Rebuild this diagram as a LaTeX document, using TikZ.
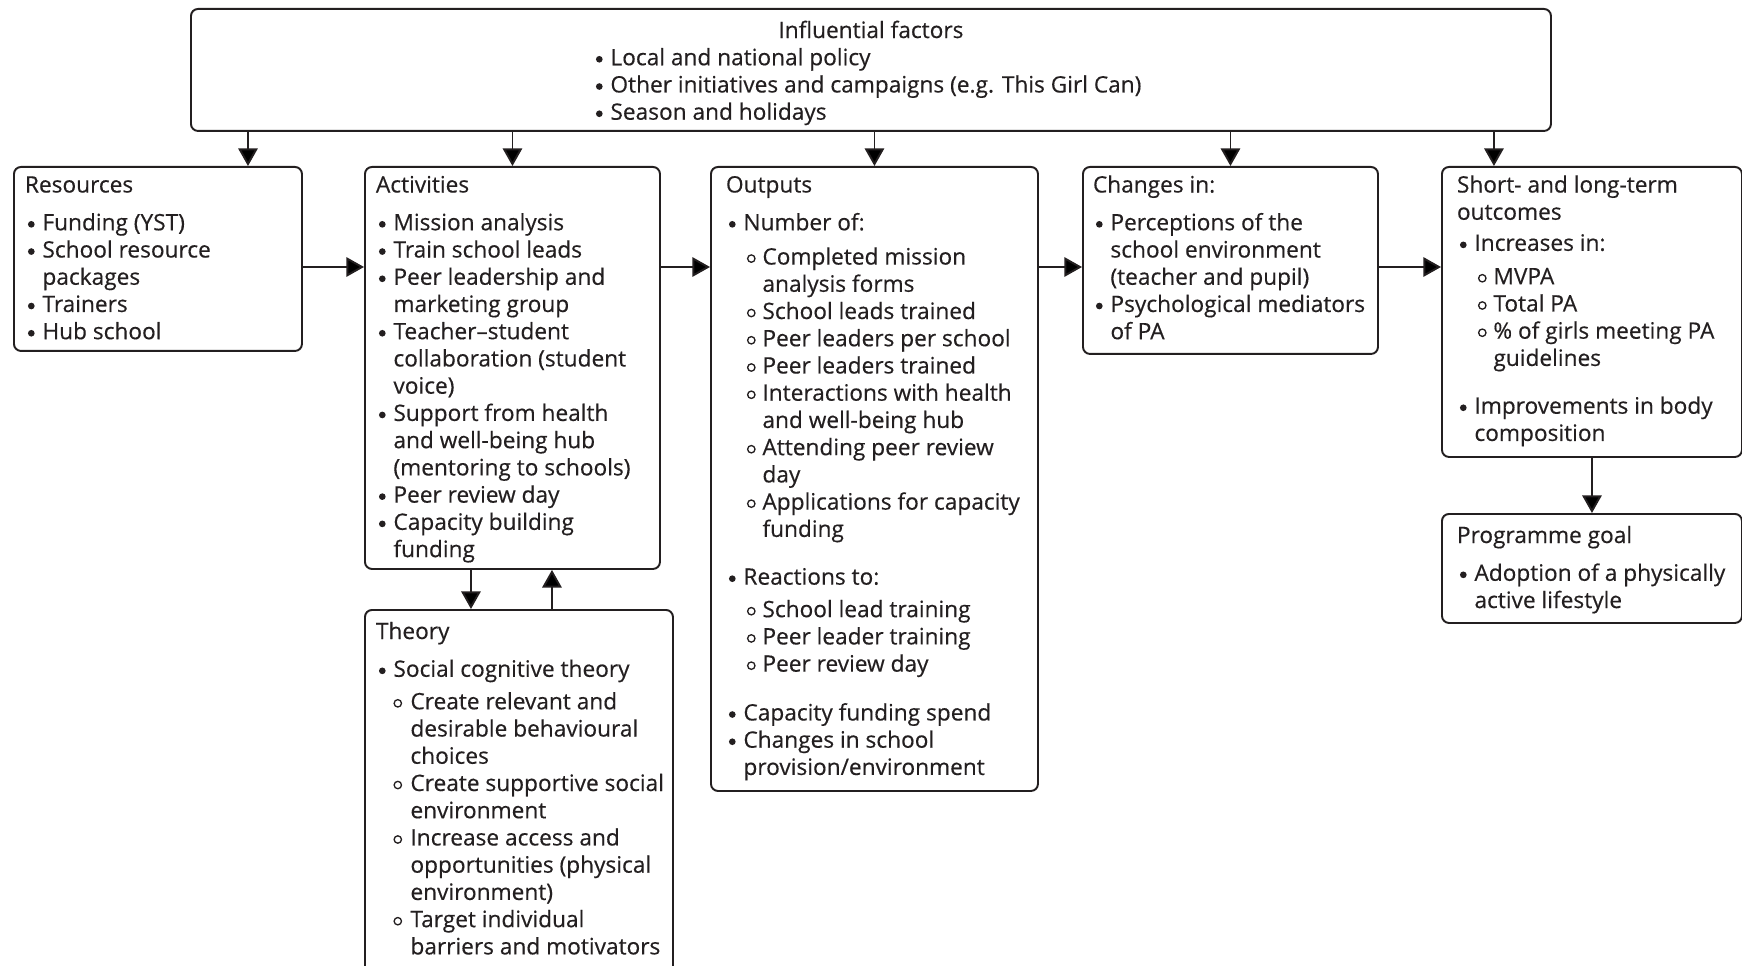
\documentclass[tikz,border=0pt]{standalone}
\usepackage{fontspec}
\setmainfont{Open Sans}[FakeBold=0.4]
\usetikzlibrary{arrows.meta}

\definecolor{ink}{HTML}{231F20}
\newlength\px \setlength\px{0.02cm}
\newcommand{\boxbody}[3]{\begin{minipage}[t][#2\px][t]{#1\px}\vspace*{2.5\px}\strut#3\end{minipage}}
\newcommand{\dotb}{\tikz[baseline]\fill (0,3.4pt) circle[radius=1.9pt];}
\newcommand{\ringb}{\tikz[baseline]\draw[line width=0.75pt] (0,3.4pt) circle[radius=2.1pt];}
\newcommand{\bul}{\hspace*{3\px}\makebox[14.5\px][l]{\dotb}}
\newcommand{\ind}{\hspace*{17.5\px}}
\newcommand{\sub}{\hspace*{21\px}\makebox[15.5\px][l]{\ringb}}
\newcommand{\sind}{\hspace*{36.5\px}}
\newcommand{\tsub}{\hspace*{17.5\px}\makebox[17\px][l]{\ringb}}
\newcommand{\tsind}{\hspace*{34.5\px}}

\tikzset{
  box/.style={draw=ink, text=ink, line width=1.1pt, rounded corners=4pt,
    anchor=north west, inner xsep=11\px, inner ysep=4\px,
    font=\fontsize{12.9}{15.5}\selectfont},
  arr/.style={-{Triangle[length=10pt,width=11pt]}, draw=ink, line width=1.1pt}
}

\begin{document}
\begin{tikzpicture}[x=0.02cm, y=-0.02cm]
\useasboundingbox (0,0) rectangle (1742,966);

% top box
\node[box, inner xsep=12\px, inner ysep=7.5\px] (top) at (190,8) {\boxbody{1336}{107}{%
\makebox[1336\px][c]{Influential factors}\\
\hspace*{390\px}\bul Local and national policy\\
\hspace*{390\px}\bul Other initiatives and campaigns (e.g. This Girl Can)\\
\hspace*{390\px}\bul Season and holidays}};

% logic model row
\node[box] (res) at (13,166) {\boxbody{266}{176}{%
Resources\\[6pt]
\bul Funding (YST)\\
\bul School resource\\
\ind packages\\
\bul Trainers\\
\bul Hub school}};

\node[box] (act) at (364,166) {\boxbody{273}{394}{%
Activities\\[6pt]
\bul Mission analysis\\
\bul Train school leads\\
\bul Peer leadership and\\
\ind marketing group\\
\bul Teacher--student\\
\ind collaboration (student\\
\ind voice)\\
\bul Support from health\\
\ind and well-being hub\\
\ind \mbox{(mentoring to schools)}\\
\bul Peer review day\\
\bul Capacity building\\
\ind funding}};

\node[box, inner xsep=15\px] (out) at (710,166) {\boxbody{297}{616}{%
Outputs\\[6pt]
\bul Number of:\\[4pt]
\sub Completed mission\\
\sind analysis forms\\
\sub School leads trained\\
\sub \mbox{Peer leaders per school}\\
\sub Peer leaders trained\\
\sub \mbox{Interactions with health}\\
\sind and well-being hub\\
\sub Attending peer review\\
\sind day\\
\sub \mbox{Applications for capacity}\\
\sind funding\\[11.7pt]
\bul Reactions to:\\[3pt]
\sub School lead training\\
\sub Peer leader training\\
\sub Peer review day\\[12.3pt]
\bul Capacity funding spend\\
\bul Changes in school\\
\ind provision/environment}};

\node[box, inner xsep=10\px] (chg) at (1082,166) {\boxbody{275}{179}{%
Changes in:\\[6pt]
\bul Perceptions of the\\
\ind school environment\\
\ind (teacher and pupil)\\
\bul \mbox{Psychological mediators}\\
\ind of PA}};

\node[box, inner xsep=15\px] (slt) at (1441,166) {\boxbody{270}{282}{%
Short- and long-term\\
outcomes\\[2.2pt]
\bul Increases in:\\[3.5pt]
\sub MVPA\\
\sub Total PA\\
\sub \mbox{\% of girls meeting PA}\\
\sind guidelines\\[11.7pt]
\bul Improvements in body\\
\ind composition}};

\node[box, inner xsep=15\px, inner ysep=7.5\px] (goal) at (1441,513) {\boxbody{270}{94}{%
Programme goal\\[6pt]
\bul \mbox{Adoption of a physically}\\
\ind active lifestyle}};

\node[box, inner ysep=7.5\px] (thy) at (364,609) {\boxbody{286}{365}{%
Theory\\[6pt]
\bul Social cognitive theory\\[3pt]
\tsub Create relevant and\\
\tsind desirable behavioural\\
\tsind choices\\
\tsub \mbox{Create supportive social}\\
\tsind environment\\
\tsub Increase access and\\
\tsind \mbox{opportunities (physical}\\
\tsind environment)\\
\tsub Target individual\\
\tsind \mbox{barriers and motivators}}};

% influences
\coordinate (fl) at ([xshift=1.16cm]top.south west);
\coordinate (fr) at ([xshift=-1.16cm]top.south east);
\draw[arr] (fl) -- (fl |- res.north);
\draw[arr] (top.south -| act.north) -- (act.north);
\draw[arr] (top.south -| out.north) -- (out.north);
\draw[arr] (top.south -| chg.north) -- (chg.north);
\draw[arr] (fr) -- (fr |- slt.north);

% main flow
\coordinate (row) at (0,267);
\draw[arr] (res.east |- row) -- (act.west |- row);
\draw[arr] (act.east |- row) -- (out.west |- row);
\draw[arr] (out.east |- row) -- (chg.west |- row);
\draw[arr] (chg.east |- row) -- (slt.west |- row);
\draw[arr] (slt.south) -- (goal.north);

% activities <-> theory
\coordinate (dn) at ([xshift=2.14cm]act.south west);
\coordinate (up) at ([xshift=3.76cm]act.south west);
\draw[arr] (dn) -- (dn |- thy.north);
\draw[arr] (up |- thy.north) -- (up);
\end{tikzpicture}
\end{document}
